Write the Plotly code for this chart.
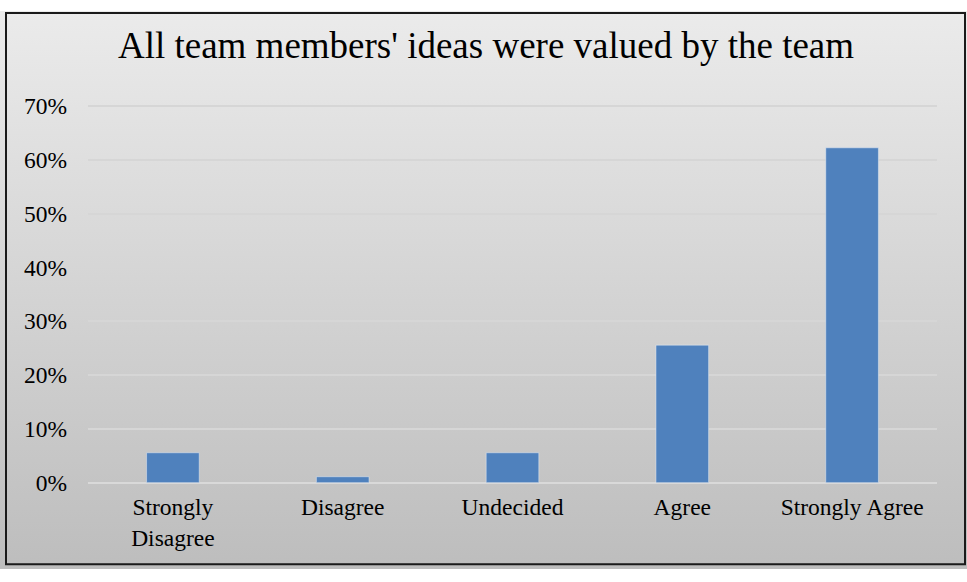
import plotly.graph_objects as go
import urllib.parse

categories = ["Strongly<br>Disagree", "Disagree", "Undecided", "Agree", "Strongly Agree"]
values = [0.0556, 0.0111, 0.0556, 0.2556, 0.6222]
tick_vals = [0, 0.1, 0.2, 0.3, 0.4, 0.5, 0.6, 0.7]
tick_text = ["0%", "10%", "20%", "30%", "40%", "50%", "60%", "70%"]
title = "All team members' ideas were valued by the team"

W, H = 967, 582

svg = (
    '<svg xmlns="http://www.w3.org/2000/svg" width="100" height="100" preserveAspectRatio="none">'
    '<defs><linearGradient id="g" x1="0" y1="0" x2="0" y2="1">'
    '<stop offset="0" stop-color="#EBEBEB"/><stop offset="1" stop-color="#BDBDBD"/>'
    '</linearGradient></defs><rect width="100" height="100" fill="url(#g)"/></svg>'
)
src = "data:image/svg+xml;charset=utf-8," + urllib.parse.quote(svg)

fig = go.Figure(go.Bar(x=categories, y=values, marker_color="#4F81BD", width=0.31))

font = "Liberation Serif, Times New Roman, serif"
fig.update_layout(
    width=W, height=H,
    margin=dict(l=0, r=0, t=0, b=0),
    paper_bgcolor="rgba(0,0,0,0)",
    plot_bgcolor="rgba(0,0,0,0)",
    showlegend=False,
    font=dict(family=font, size=23.5, color="#000000"),
    title=dict(text=title, x=486 / W, xanchor="center", y=1 - 45 / H, yanchor="middle",
               font=dict(family=font, size=37, color="#000000")),
    xaxis=dict(domain=[88 / W, 937 / W], showgrid=False, showline=False, zeroline=False,
               ticks="", tickfont=dict(size=23.5), ticklabelstandoff=8),
    yaxis=dict(domain=[(H - 492) / H, (H - 97) / H], range=[0, 0.7036],
               tickvals=tick_vals, ticktext=tick_text, showgrid=True, gridcolor="#D6D6D6",
               gridwidth=1.5, zeroline=True, zerolinecolor="#D9D9D9", zerolinewidth=1.5,
               showline=False, ticks="", tickfont=dict(size=23.5), ticklabelstandoff=20),
    images=[dict(source=src, xref="paper", yref="paper", x=0, y=1, sizex=1, sizey=1,
                 xanchor="left", yanchor="top", sizing="stretch", layer="below")],
    shapes=[dict(type="rect", xref="paper", yref="paper", x0=6 / W, x1=965 / W,
                 y0=1 - 577 / H, y1=1 - 2 / H, line=dict(color="#1a1a1a", width=2),
                 fillcolor="rgba(0,0,0,0)", layer="above")],
)

fig.write_html("out.html")
